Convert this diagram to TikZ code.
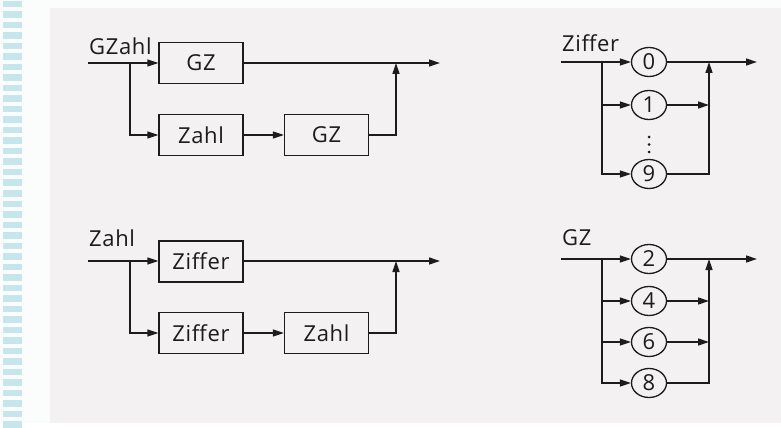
\documentclass[tikz,border=0pt]{standalone}
\usepackage{fontspec}
\setmainfont{Open Sans}[LetterSpace=3]
\usetikzlibrary{arrows.meta,shapes.geometric}

\definecolor{page}{HTML}{F3F1F1}
\definecolor{margin}{HTML}{FBFCFC}
\definecolor{stripe}{HTML}{C6E6EE}
\definecolor{ink}{HTML}{1C1C1C}

\tikzset{
  wire/.style={draw=ink, line width=1.3pt},
  arr/.style={wire, -{Triangle[length=11pt,width=7pt]}},
  blockbox/.style={draw=ink, line width=1.3pt, rectangle, minimum width=84pt,
    minimum height=41pt, inner sep=0pt, font=\fontsize{22}{26}\selectfont, text=ink},
  digit/.style={draw=ink, line width=1.3pt, ellipse, minimum width=35pt,
    minimum height=29pt, inner sep=0pt, font=\fontsize{22}{26}\selectfont, text=ink},
  headtext/.style={anchor=base west, inner sep=0pt, font=\fontsize{22}{26}\selectfont, text=ink},
  dotmark/.style={fill=ink, circle, inner sep=0pt, minimum size=3pt}
}

\begin{document}
\begin{tikzpicture}[x=1pt,y=-1pt]
  % paper and margin
  \fill[margin] (0,0) rectangle (781,423);
  \fill[page] (50,8) rectangle (781,423);
  \foreach \k in {0,...,40} {
    \fill[stripe] (3,{\k*10.5+1}) rectangle (22,{\k*10.5+7.5});
  }
  \useasboundingbox (0,0) rectangle (781,423);

  % ---------------- GZahl ----------------
  \node[headtext] (gzahllabel) at (89,55) {GZahl};
  \node[blockbox] (g1) at (201,63) {GZ};
  \node[blockbox] (g2) at (201,135) {Zahl};
  \node[blockbox] (g3) at (326.5,135) {GZ};
  \coordinate (gin) at (88,63);
  \coordinate (gsplit) at (130,63);
  \coordinate (gjoin) at (396,63);
  \coordinate (gout) at (440,63);
  \draw[arr] (gin) -- (g1.west);
  \draw[arr] (gsplit) |- (g2.west);
  \draw[arr] (g2.east) -- (g3.west);
  \draw[arr] (g1.east) -- (gout);
  \draw[arr] (g3.east) -| (gjoin);

  % ---------------- Ziffer ----------------
  \node[headtext] (zifferlabel) at (562,52) {Ziffer};
  \node[digit] (d0) at (649,62) {0};
  \node[digit] (d1) at (649,105) {1};
  \node[digit] (d9) at (649,174) {9};
  \node[dotmark] (e1) at (649,137) {};
  \node[dotmark] (e2) at (649,144.5) {};
  \node[dotmark] (e3) at (649,152) {};
  \coordinate (zin) at (561,62);
  \coordinate (zsplit) at (602,62);
  \coordinate (zjoin) at (709,62);
  \coordinate (zout) at (757,62);
  \draw[arr] (zin) -- (d0.west);
  \draw[arr] (zsplit |- d1) -- (d1.west);
  \draw[arr] (zsplit) |- (d9.west);
  \draw[arr] (d0.east) -- (zout);
  \draw[arr] (d1.east) -- (zjoin |- d1);
  \draw[arr] (d9.east) -| (zjoin);

  % ---------------- Zahl ----------------
  \node[headtext] (zahllabel) at (89,246) {Zahl};
  \node[blockbox] (h1) at (201,261.5) {Ziffer};
  \node[blockbox] (h2) at (201,333) {Ziffer};
  \node[blockbox] (h3) at (326.5,333) {Zahl};
  \coordinate (hin) at (88,261);
  \coordinate (hsplit) at (130,261);
  \coordinate (hjoin) at (396,261);
  \coordinate (hout) at (440,261);
  \draw[arr] (hin) -- (h1.west |- hin);
  \draw[arr] (hsplit) |- (h2.west);
  \draw[arr] (h2.east) -- (h3.west);
  \draw[arr] (h1.east |- hin) -- (hout);
  \draw[arr] (h3.east) -| (hjoin);

  % ---------------- GZ ----------------
  \node[headtext] (gzlabel) at (562,245) {GZ};
  \node[digit] (f2) at (649,259) {2};
  \node[digit] (f4) at (649,301) {4};
  \node[digit] (f6) at (649,342) {6};
  \node[digit] (f8) at (649,383) {8};
  \coordinate (kin) at (561,259);
  \coordinate (ksplit) at (602,259);
  \coordinate (kjoin) at (709,259);
  \coordinate (kout) at (757,259);
  \draw[arr] (kin) -- (f2.west);
  \draw[arr] (ksplit |- f4) -- (f4.west);
  \draw[arr] (ksplit |- f6) -- (f6.west);
  \draw[arr] (ksplit) |- (f8.west);
  \draw[arr] (f2.east) -- (kout);
  \draw[arr] (f4.east) -- (kjoin |- f4);
  \draw[arr] (f6.east) -- (kjoin |- f6);
  \draw[arr] (f8.east) -| (kjoin);
\end{tikzpicture}
\end{document}
